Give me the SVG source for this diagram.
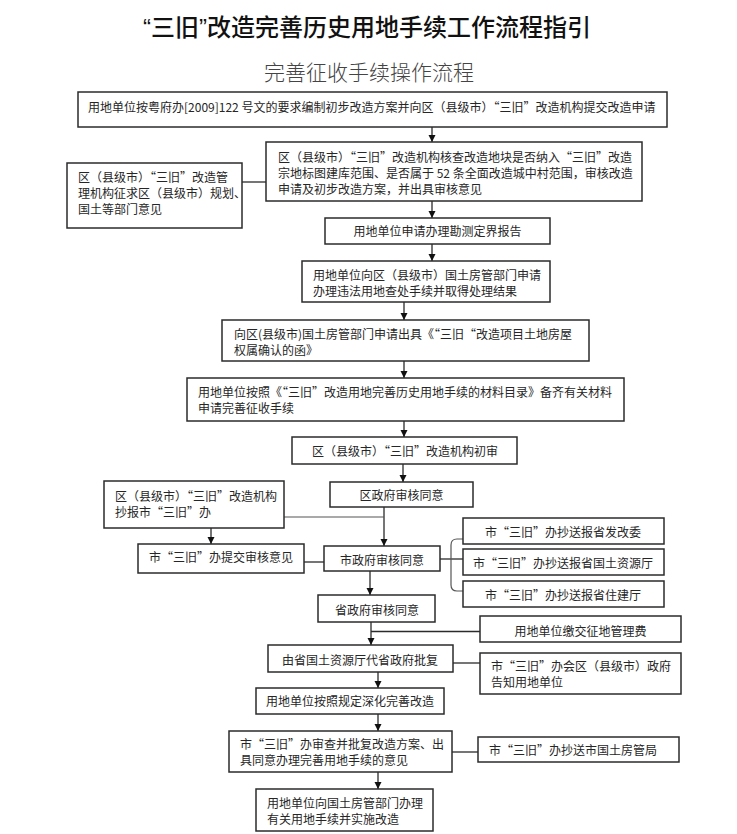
<svg xmlns="http://www.w3.org/2000/svg" width="737" height="834" viewBox="0 0 737 834">
<style>
  .bg { fill: #ffffff; }
  .box { fill: #ffffff; stroke: #2b2b2b; stroke-width: 1.5; }
  .t { font-family: "Noto Sans CJK SC", "Noto Sans", sans-serif; font-size: 12px; fill: #262626; }
  .c { text-anchor: middle; }
  .title { font-family: "Liberation Sans", "Noto Sans CJK SC", sans-serif; font-size: 24px; font-weight: 500; fill: #111; text-anchor: middle; }
  .sub { font-family: "Noto Sans CJK SC", sans-serif; font-size: 21px; font-weight: 300; fill: #444; text-anchor: middle; }
  .ln { fill: none; stroke: #2b2b2b; stroke-width: 1.3; }
  .ln2 { fill: none; stroke: #555; stroke-width: 1.2; }
  .ar { fill: none; stroke: #2b2b2b; stroke-width: 1.3; marker-end: url(#ah); }
</style>
<defs>
  <marker id="ah" viewBox="0 0 10 10" refX="10" refY="5" markerWidth="7" markerHeight="8" markerUnits="userSpaceOnUse" orient="auto">
    <path d="M0,0 L10,5 L0,10 z" fill="#111"/>
  </marker>
</defs>
<rect class="bg" x="0" y="0" width="737" height="834"/>

<text class="title" x="367" y="35.5">“三旧”改造完善历史用地手续工作流程指引</text>
<text class="sub" x="369" y="80">完善征收手续操作流程</text>

<g id="connectors">
  <line class="ar" x1="432" y1="127" x2="432" y2="142"/>
  <line class="ar" x1="432" y1="201" x2="432" y2="218"/>
  <line class="ar" x1="432" y1="244" x2="432" y2="261"/>
  <line class="ar" x1="404" y1="302" x2="404" y2="320"/>
  <line class="ar" x1="404" y1="361" x2="404" y2="378"/>
  <line class="ar" x1="404" y1="421" x2="404" y2="437"/>
  <line class="ar" x1="403" y1="464" x2="403" y2="482"/>
  <line class="ar" x1="384" y1="507" x2="384" y2="546"/>
  <line class="ar" x1="211" y1="528" x2="211" y2="544"/>
  <line class="ar" x1="370" y1="571" x2="370" y2="595"/>
  <line class="ar" x1="371" y1="622" x2="371" y2="645"/>
  <line class="ar" x1="378" y1="672" x2="378" y2="688"/>
  <line class="ar" x1="378" y1="714" x2="378" y2="731"/>
  <line class="ar" x1="378" y1="772" x2="378" y2="789"/>
  <line class="ln" x1="242" y1="182" x2="266" y2="182"/>
  <line class="ln2" x1="284" y1="517" x2="384" y2="517"/>
  <line class="ln" x1="304" y1="562" x2="324" y2="562"/>
  <line class="ln" x1="440" y1="559" x2="463" y2="559"/>
  <path class="ln2" d="M463,539 L457,539 Q451,539 451,545 L451,585 Q451,591 457,591 L463,591"/>
  <line class="ln" x1="371" y1="631.5" x2="480" y2="631.5"/>
  <line class="ln" x1="453" y1="663" x2="480" y2="663"/>
  <line class="ln" x1="452" y1="752" x2="478" y2="752"/>
</g>

<g id="n1">
  <rect class="box" x="78" y="92" width="589" height="35"/>
  <text class="t" x="88" y="112">用地单位按粤府办[2009]122 号文的要求编制初步改造方案并向区（县级市）“三旧”改造机构提交改造申请</text>
</g>
<g id="n2">
  <rect class="box" x="266" y="142" width="376" height="59"/>
  <text class="t" x="278" y="161.5">区（县级市）“三旧”改造机构核查改造地块是否纳入“三旧”改造</text>
  <text class="t" x="278" y="177.5">宗地标图建库范围、是否属于 52 条全面改造城中村范围，审核改造</text>
  <text class="t" x="278" y="193.5">申请及初步改造方案，并出具审核意见</text>
</g>
<g id="n2side">
  <rect class="box" x="67" y="163" width="175" height="65"/>
  <text class="t" x="78" y="182">区（县级市）“三旧”改造管</text>
  <text class="t" x="78" y="198">理机构征求区（县级市）规划、</text>
  <text class="t" x="78" y="214">国土等部门意见</text>
</g>
<g id="n3">
  <rect class="box" x="325" y="218" width="225" height="26"/>
  <text class="t c" x="437.5" y="236">用地单位申请办理勘测定界报告</text>
</g>
<g id="n4">
  <rect class="box" x="302" y="261" width="248" height="41"/>
  <text class="t" x="313" y="279.5">用地单位向区（县级市）国土房管部门申请</text>
  <text class="t" x="313" y="295.5">办理违法用地查处手续并取得处理结果</text>
</g>
<g id="n5">
  <rect class="box" x="222" y="320" width="367" height="41"/>
  <text class="t" x="234" y="339">向区(县级市)国土房管部门申请出具《“三旧“改造项目土地房屋</text>
  <text class="t" x="234" y="355">权属确认的函》</text>
</g>
<g id="n6">
  <rect class="box" x="187" y="378" width="437" height="43"/>
  <text class="t" x="198" y="397">用地单位按照《“三旧”改造用地完善历史用地手续的材料目录》备齐有关材料</text>
  <text class="t" x="198" y="413">申请完善征收手续</text>
</g>
<g id="n7">
  <rect class="box" x="292" y="437" width="225" height="27"/>
  <text class="t c" x="405" y="456">区（县级市）“三旧”改造机构初审</text>
</g>
<g id="n8">
  <rect class="box" x="330" y="482" width="143" height="25"/>
  <text class="t c" x="401.5" y="499.5">区政府审核同意</text>
</g>
<g id="n9">
  <rect class="box" x="104" y="481" width="180" height="47"/>
  <text class="t" x="115" y="500.5">区（县级市）“三旧”改造机构</text>
  <text class="t" x="115" y="516.5">抄报市“三旧”办</text>
</g>
<g id="n10">
  <rect class="box" x="138" y="544" width="166" height="29"/>
  <text class="t c" x="221" y="562">市“三旧”办提交审核意见</text>
</g>
<g id="n11">
  <rect class="box" x="324" y="546" width="116" height="25"/>
  <text class="t c" x="382" y="564.5">市政府审核同意</text>
</g>
<g id="r1">
  <rect class="box" x="463" y="518" width="201" height="26"/>
  <text class="t c" x="563" y="537">市“三旧”办抄送报省发改委</text>
</g>
<g id="r2">
  <rect class="box" x="463" y="549" width="201" height="26"/>
  <text class="t c" x="563" y="568">市“三旧”办抄送报省国土资源厅</text>
</g>
<g id="r3">
  <rect class="box" x="463" y="581" width="201" height="26"/>
  <text class="t c" x="563" y="599.5">市“三旧”办抄送报省住建厅</text>
</g>
<g id="n12">
  <rect class="box" x="318" y="595" width="117" height="27"/>
  <text class="t c" x="377" y="614.5">省政府审核同意</text>
</g>
<g id="r4">
  <rect class="box" x="480" y="616" width="201" height="26"/>
  <text class="t c" x="580.5" y="635.5">用地单位缴交征地管理费</text>
</g>
<g id="n13">
  <rect class="box" x="268" y="645" width="185" height="27"/>
  <text class="t c" x="360" y="664.5">由省国土资源厅代省政府批复</text>
</g>
<g id="r5">
  <rect class="box" x="480" y="653" width="201" height="41"/>
  <text class="t" x="491" y="670.5">市“三旧”办会区（县级市）政府</text>
  <text class="t" x="491" y="686.5">告知用地单位</text>
</g>
<g id="n14">
  <rect class="box" x="256" y="688" width="188" height="26"/>
  <text class="t c" x="350" y="706">用地单位按照规定深化完善改造</text>
</g>
<g id="n15">
  <rect class="box" x="229" y="731" width="223" height="41"/>
  <text class="t" x="240" y="749">市“三旧”办审查并批复改造方案、出</text>
  <text class="t" x="240" y="765">具同意办理完善用地手续的意见</text>
</g>
<g id="r6">
  <rect class="box" x="478" y="737" width="201" height="25"/>
  <text class="t" x="489" y="755">市“三旧”办抄送市国土房管局</text>
</g>
<g id="n16">
  <rect class="box" x="256" y="789" width="177" height="42"/>
  <text class="t" x="267" y="807.5">用地单位向国土房管部门办理</text>
  <text class="t" x="267" y="823.5">有关用地手续并实施改造</text>
</g>
</svg>
